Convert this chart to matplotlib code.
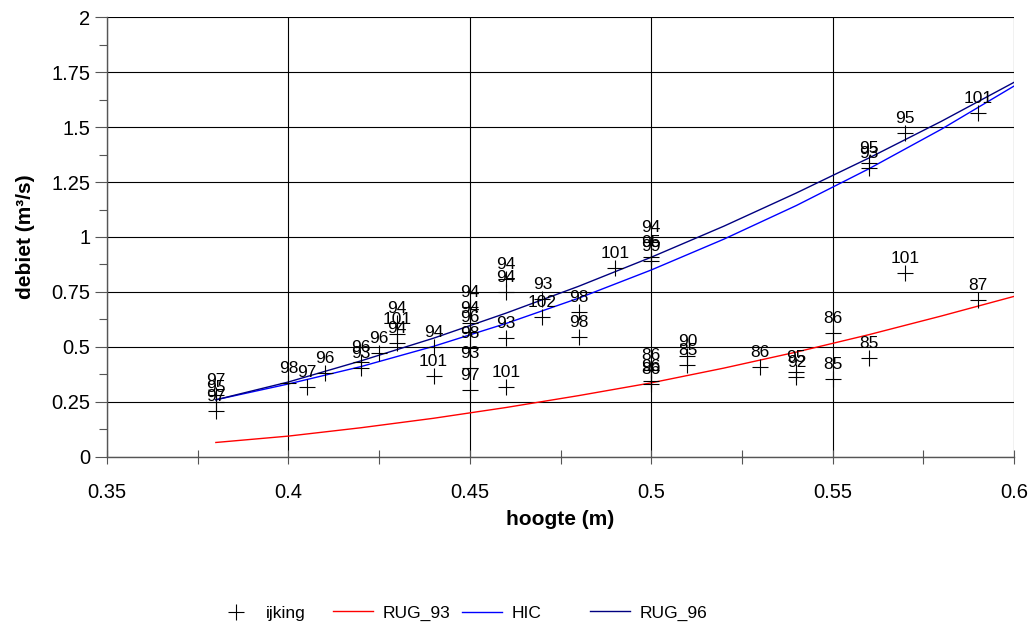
import matplotlib
matplotlib.use("Agg")
import matplotlib.pyplot as plt
from matplotlib.ticker import MultipleLocator, FuncFormatter

plt.rcParams["font.family"] = ["Liberation Sans", "DejaVu Sans"]

# Measured points (ijking): hoogte (m), debiet (m3/s), label
h_meas = [0.38, 0.38, 0.38, 0.40, 0.405, 0.41, 0.42, 0.42, 0.425, 0.43,
          0.43, 0.43, 0.44, 0.44, 0.45, 0.45, 0.45, 0.45, 0.45, 0.45,
          0.46, 0.46, 0.46, 0.46, 0.47, 0.47, 0.48, 0.48, 0.49, 0.50,
          0.50, 0.50, 0.50, 0.50, 0.50, 0.51, 0.51, 0.53, 0.54, 0.54,
          0.55, 0.55, 0.56, 0.56, 0.56, 0.57, 0.57, 0.59, 0.59]
q_meas = [0.21, 0.25, 0.28, 0.335, 0.318, 0.38, 0.405, 0.43, 0.473, 0.52,
          0.56, 0.61, 0.50, 0.37, 0.68, 0.61, 0.57, 0.495, 0.405, 0.305,
          0.81, 0.75, 0.54, 0.32, 0.72, 0.635, 0.66, 0.545, 0.86, 0.975,
          0.91, 0.89, 0.395, 0.345, 0.33, 0.42, 0.46, 0.41, 0.386, 0.364,
          0.564, 0.355, 0.45, 1.336, 1.314, 1.473, 0.836, 1.564, 0.714]
labels = ["97", "95", "97", "98", "97", "96", "93", "96", "96", "94",
          "101", "94", "94", "101", "94", "94", "96", "98", "93", "97",
          "94", "94", "93", "101", "93", "102", "98", "98", "101", "94",
          "95", "99", "86", "96", "86", "85", "90", "86", "95", "92",
          "86", "85", "85", "95", "93", "95", "101", "101", "87"]

h_curve = [0.38, 0.40, 0.42, 0.44, 0.46, 0.48, 0.50, 0.52, 0.54, 0.56, 0.58, 0.60]
q_rug93 = [0.066, 0.095, 0.133, 0.176, 0.225, 0.279, 0.337, 0.404, 0.477, 0.556, 0.641, 0.73]
q_hic = [0.26, 0.332, 0.411, 0.503, 0.607, 0.722, 0.85, 0.99, 1.143, 1.31, 1.49, 1.686]
q_rug96 = [0.26, 0.341, 0.437, 0.54, 0.654, 0.776, 0.908, 1.049, 1.2, 1.359, 1.526, 1.703]

fig = plt.figure(figsize=(10.31, 6.32), dpi=100)
ax = fig.add_axes([0.1038, 0.2769, 0.8797, 0.6962])

ax.plot(h_meas, q_meas, linestyle="none", marker="+", markersize=12,
        markeredgewidth=0.8, color="black", label="ijking", zorder=4)
for x, y, t in zip(h_meas, q_meas, labels):
    ax.annotate(t, (x, y), xytext=(0, 10.5), textcoords="offset points",
                ha="center", va="center", fontsize=12.5, zorder=5)

ax.plot(h_curve, q_rug93, color="#ff0000", lw=1, label="RUG_93", zorder=3)
ax.plot(h_curve, q_hic, color="#0000ff", lw=1, label="HIC", zorder=3)
ax.plot(h_curve, q_rug96, color="#000080", lw=1, label="RUG_96", zorder=3)

ax.set_xlim(0.35, 0.6)
ax.set_ylim(0, 2)
ax.xaxis.set_major_locator(MultipleLocator(0.05))
ax.xaxis.set_minor_locator(MultipleLocator(0.025))
ax.yaxis.set_major_locator(MultipleLocator(0.25))
ax.yaxis.set_minor_locator(MultipleLocator(0.125))
fmt = FuncFormatter(lambda v, p: ("%.2f" % v).rstrip("0").rstrip("."))
ax.xaxis.set_major_formatter(fmt)
ax.yaxis.set_major_formatter(fmt)

ax.grid(True, which="major", color="black", lw=0.8)
ax.set_axisbelow(True)
ax.get_ygridlines()[-1].set_visible(False)

for s in ["top", "right"]:
    ax.spines[s].set_visible(False)
for s in ["left", "bottom"]:
    ax.spines[s].set_color("#555555")
    ax.spines[s].set_linewidth(1)

ax.tick_params(axis="x", which="major", direction="inout", length=9.5, width=0.8,
               color="#555555", labelsize=14.5, pad=14)
ax.tick_params(axis="x", which="minor", direction="inout", length=9.5, width=0.8,
               color="#555555")
ax.tick_params(axis="y", which="major", direction="out", length=9, width=0.8,
               color="#555555", labelsize=14.5, pad=3)
ax.tick_params(axis="y", which="minor", direction="out", length=5.5, width=0.8,
               color="#555555")

ax.set_xlabel("hoogte (m)", fontsize=15, fontweight="bold", labelpad=6)
ax.set_ylabel("debiet (m³/s)", fontsize=15, fontweight="bold", labelpad=12)

# legend entries placed separately, like the original's fixed slots
handles, names = ax.get_legend_handles_labels()
slots = [216, 333, 462, 590]
for hnd, name, xpx in zip(handles, names, slots):
    fig.legend([hnd], [name], loc="center left", bbox_to_anchor=(xpx / 1031, 0.03),
               frameon=False, fontsize=12.5, handlelength=2.3, handletextpad=0.55,
               borderpad=0, borderaxespad=0)

fig.savefig("out.png", dpi=100)
plt.close(fig)
